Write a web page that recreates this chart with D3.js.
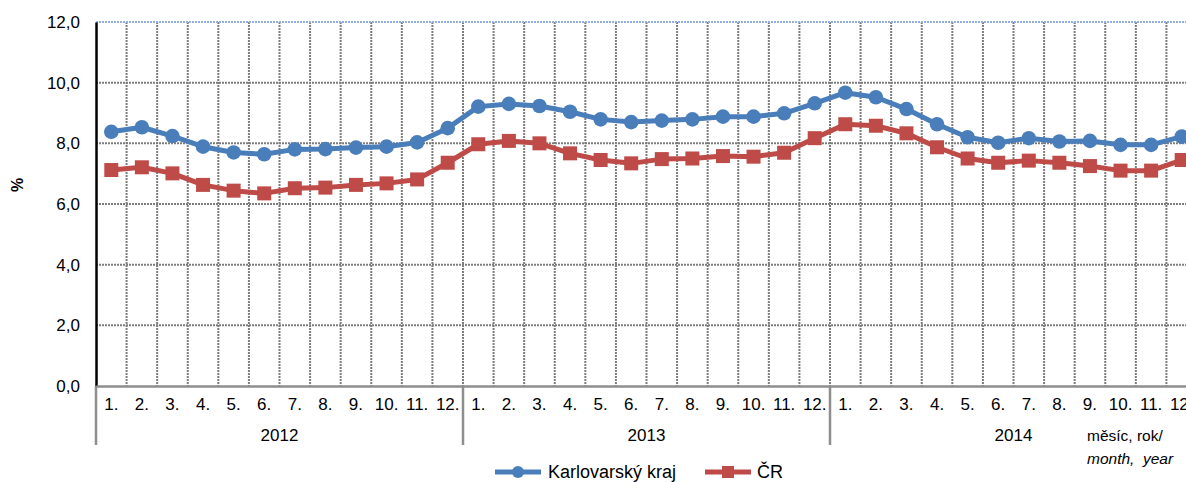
<!DOCTYPE html>
<html><head><meta charset="utf-8">
<script src="https://cdn.jsdelivr.net/npm/d3@7"></script>
<style>body{margin:0;background:#fff}svg{display:block;font-family:"Liberation Sans",Arial,sans-serif}</style>
</head><body>
<svg id="c" width="1186" height="482"></svg>
<script>
const years = ["2012","2013","2014"];
const months = ["1.","2.","3.","4.","5.","6.","7.","8.","9.","10.","11.","12."];
const karlovarsky = [8.38,8.53,8.24,7.89,7.70,7.64,7.80,7.81,7.86,7.89,8.03,8.50,
                     9.21,9.30,9.23,9.04,8.79,8.70,8.75,8.79,8.88,8.88,8.99,9.32,
                     9.67,9.52,9.13,8.63,8.20,8.02,8.17,8.06,8.08,7.95,7.95,8.22];
const cr = [7.12,7.21,7.01,6.63,6.44,6.35,6.52,6.54,6.63,6.68,6.81,7.36,
            7.97,8.08,8.00,7.67,7.45,7.34,7.48,7.50,7.58,7.56,7.69,8.17,
            8.63,8.58,8.33,7.87,7.50,7.36,7.43,7.36,7.25,7.10,7.10,7.45];
const yTicks = [0,2,4,6,8,10,12];
const seriesNames = ["Karlovarský kraj","ČR"];

const svg = d3.select("#c");
const pL = 96, pR = 1197, pT = 22, pB = 386;
const keys = [];
years.forEach(yr => months.forEach(m => keys.push(yr + "-" + m)));
const x = d3.scaleBand().domain(keys).range([pL, pR]);
const y = d3.scaleLinear().domain([0, 12]).range([pB, pT]);
const blue = "#4a7ebb", red = "#be4b48";
const gridCol = "#7d7d7d";

// grid
const g = svg.append("g");
g.selectAll("line.v").data(keys.slice(1)).join("line")
  .attr("x1", d => x(d)).attr("x2", d => x(d)).attr("y1", pT).attr("y2", pB)
  .attr("stroke", gridCol).attr("stroke-width", 2).attr("stroke-dasharray", "2,1");
g.selectAll("line.h").data(yTicks.filter(t => t > 0)).join("line")
  .attr("x1", pL).attr("x2", pR).attr("y1", d => y(d)).attr("y2", d => y(d))
  .attr("stroke", d => d === 12 ? "#93afdc" : gridCol).attr("stroke-width", 2).attr("stroke-dasharray", "2,1");

// y axis
const ya = svg.append("g").attr("transform", `translate(${pL},0)`)
  .call(d3.axisLeft(y).tickValues(yTicks).tickSize(0).tickPadding(16).tickFormat(d => d3.format(".1f")(d).replace(".", ",")));
ya.select(".domain").attr("stroke", "#000").attr("stroke-width", 2.5);
ya.selectAll("text").attr("font-size", 17).attr("fill", "#000").attr("font-family", "Liberation Sans, Arial, sans-serif");

// x axis
const xa = svg.append("g").attr("transform", `translate(0,${pB})`)
  .call(d3.axisBottom(x).tickSize(0).tickPadding(12).tickFormat(d => d.split("-")[1]));
xa.select(".domain").attr("stroke", "#8e8e8e").attr("stroke-width", 2.5);
xa.selectAll("text").attr("font-size", 17).attr("fill", "#000").attr("font-family", "Liberation Sans, Arial, sans-serif");

// year separators & labels
years.forEach((yr) => {
  const x0 = x(yr + "-1.");
  svg.append("line").attr("x1", x0).attr("x2", x0).attr("y1", pB).attr("y2", 445)
    .attr("stroke", "#8e8e8e").attr("stroke-width", 2.5);
  const x1 = x(yr + "-12.") + x.bandwidth();
  svg.append("text").attr("x", (x0 + x1) / 2).attr("y", 441).attr("text-anchor", "middle")
    .attr("font-size", 17).text(yr);
});

svg.append("text").attr("x", 1087).attr("y", 441).attr("font-size", 15.5).text("měsíc, rok/");
svg.append("text").attr("x", 1087).attr("y", 464).attr("font-size", 15.5).attr("font-style", "italic").text("month,\u00a0 year");

svg.append("text").attr("transform", "translate(23,185) rotate(-90)").attr("text-anchor", "middle")
  .attr("font-size", 16).attr("font-weight", "bold").text("%");

// lines
const cx = (d, i) => x(keys[i]) + x.bandwidth() / 2;
const line = d3.line().x(cx).y(d => y(d));
svg.append("path").datum(karlovarsky).attr("d", line).attr("fill", "none").attr("stroke", blue).attr("stroke-width", 5).attr("stroke-linejoin", "round");
svg.append("path").datum(cr).attr("d", line).attr("fill", "none").attr("stroke", red).attr("stroke-width", 5).attr("stroke-linejoin", "round");
svg.selectAll("circle.k").data(karlovarsky).join("circle")
  .attr("cx", cx).attr("cy", d => y(d)).attr("r", 7.3).attr("fill", blue);
svg.selectAll("rect.r").data(cr).join("rect")
  .attr("x", (d, i) => cx(d, i) - 7).attr("y", d => y(d) - 7).attr("width", 14).attr("height", 14).attr("fill", red);

// legend
const lg = svg.append("g");
lg.append("line").attr("x1", 495).attr("x2", 541).attr("y1", 472).attr("y2", 472).attr("stroke", blue).attr("stroke-width", 5);
lg.append("circle").attr("cx", 518).attr("cy", 472).attr("r", 6).attr("fill", blue);
lg.append("text").attr("x", 548).attr("y", 478).attr("font-size", 18).text(seriesNames[0]);
lg.append("line").attr("x1", 705).attr("x2", 751).attr("y1", 472).attr("y2", 472).attr("stroke", red).attr("stroke-width", 5);
lg.append("rect").attr("x", 722).attr("y", 466).attr("width", 12).attr("height", 12).attr("fill", red);
lg.append("text").attr("x", 757).attr("y", 478).attr("font-size", 18).text(seriesNames[1]);
</script>
</body></html>
